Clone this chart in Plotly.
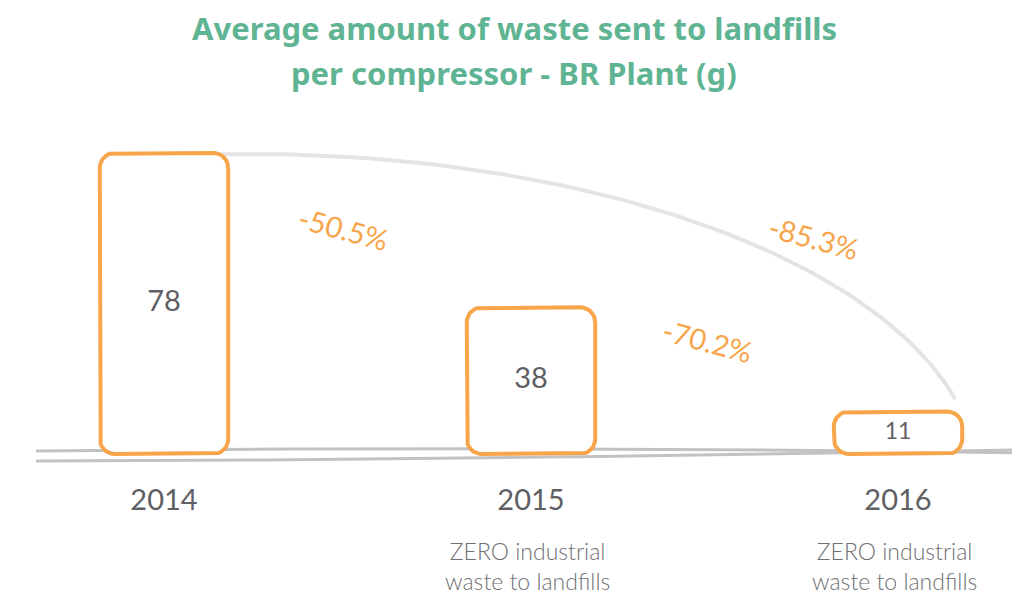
import numpy as np
import plotly.graph_objects as go

# data
years = ["2014", "2015", "2016"]
waste_g = [78, 38, 11]
change_labels = ["-50.5%", "-70.2%", "-85.3%"]
change_pos = [(0.49, 58.5), (1.48, 29.5), (1.77, 56.0)]  # (x, y) in data units
notes = ["", "ZERO industrial<br>waste to landfills", "ZERO industrial<br>waste to landfills"]
title_lines = ["Average amount of waste sent to landfills", "per compressor - BR Plant (g)"]

ORANGE = "#f7a54a"
GREEN = "#5fb493"
GREY_TXT = "#5f5f63"

# page has an 8px body margin, so the figure is a bit smaller than the window
OFF = 8
FW, FH = 1020, 586
MB = 126
PH = FH - MB
X0, X1 = (OFF - 164) / 367, (1028 - 164) / 367
Y1, Y0 = (454 - OFF) / 3.86, -(468 - 454) / 3.86
px_x = FW / (X1 - X0)
px_y = PH / (Y1 - Y0)


def px2x(p):
    return X0 + (p - OFF) / px_x


def px2y(p):
    return Y1 - (p - OFF) / px_y


def py2paper(p):
    return (PH - (p - OFF)) / PH


fig = go.Figure()

# decorative arc behind bars
cx, cy = px2x(250), px2y(480)
a, b = 728 / px_x, 326 / px_y
th = np.radians(np.linspace(92.5, 14.4, 80))
fig.add_trace(go.Scatter(x=cx + a * np.cos(th), y=cy + b * np.sin(th), mode="lines",
                         line=dict(color="#e4e4e4", width=4), hoverinfo="skip"))

# hand-drawn baseline (two strokes)
xs = np.linspace(36, 1012, 60)
ya = 449 + 4 * ((xs - 600) / 560) ** 2 + 1.5 * (xs - 600) / 400
yb = 461 - 11 * ((xs - 36) / 976) ** 1.6
for ys in (ya, yb):
    fig.add_trace(go.Scatter(x=px2x(xs), y=px2y(ys), mode="lines",
                             line=dict(color="#c2c2c4", width=3), hoverinfo="skip"))

# bars as rounded boxes
half = 0.175
rx, ry = 15 / px_x, 15 / px_y
for i, v in enumerate(waste_g):
    l, r, bot, top = i - half, i + half, 0, v
    pts = []
    for (ccx, ccy, a0) in [(r - rx, top - ry, 0), (l + rx, top - ry, 90),
                           (l + rx, bot + ry, 180), (r - rx, bot + ry, 270)]:
        t = np.radians(np.linspace(a0, a0 + 90, 10))
        pts += list(zip(ccx + rx * np.cos(t), ccy + ry * np.sin(t)))
    pts.append(pts[0])
    bx, by = zip(*pts)
    fig.add_trace(go.Scatter(x=bx, y=by, mode="lines", fill="toself", fillcolor="white",
                             line=dict(color=ORANGE, width=4), hoverinfo="skip"))

# values inside bars
fig.add_trace(go.Scatter(x=list(range(len(years))), y=[v / 2 for v in waste_g], mode="text",
                         text=[str(v) for v in waste_g],
                         textfont=dict(family="Lato", size=[29, 29, 23], color=GREY_TXT),
                         hoverinfo="skip"))

for lab, (x, y) in zip(change_labels, change_pos):
    fig.add_annotation(x=x, y=y, text=lab, showarrow=False, textangle=15,
                       font=dict(family="Lato", size=29, color=ORANGE))

for i, n in enumerate(notes):
    if n:
        fig.add_annotation(x=i - 0.01, y=py2paper(566), yref="paper", yanchor="middle",
                           text=n, showarrow=False,
                           font=dict(family="Lato", size=23, color="#707074", weight=300))

for line, yc in zip(title_lines, [28, 73]):
    fig.add_annotation(x=0.5 - OFF / 2 / FW, xref="paper", y=py2paper(yc), yref="paper",
                       yanchor="middle", text="<b>" + line + "</b>", showarrow=False,
                       font=dict(family="Noto Sans", size=31, color=GREEN))

fig.update_layout(
    width=FW, height=FH,
    margin=dict(l=0, r=0, t=0, b=MB),
    plot_bgcolor="white", paper_bgcolor="white",
    showlegend=False,
    xaxis=dict(range=[X0, X1], tickvals=list(range(len(years))), ticktext=years,
               showgrid=False, zeroline=False, showline=False, ticklabelstandoff=12,
               tickfont=dict(family="Lato", size=29, color=GREY_TXT)),
    yaxis=dict(range=[Y0, Y1], visible=False),
)

fig.write_html("out.html")
